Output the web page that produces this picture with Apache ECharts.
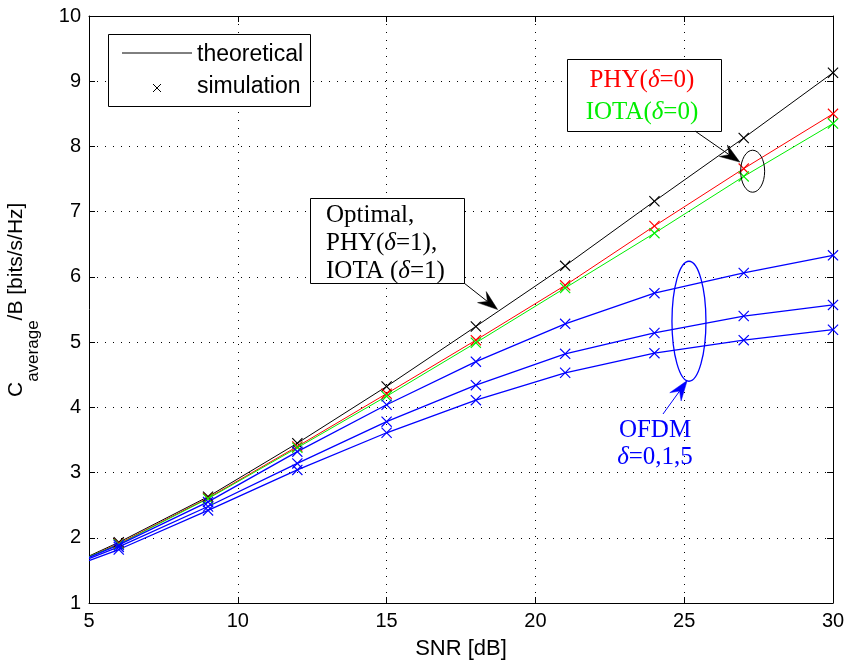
<!DOCTYPE html>
<html>
<head>
<meta charset="utf-8">
<script src="https://cdn.jsdelivr.net/npm/echarts@6/dist/echarts.min.js"></script>
<style>
html,body{margin:0;padding:0;background:#fff;}
#c{width:849px;height:665px;}
</style>
</head>
<body>
<div id="c"></div>
<script>
// ---- data ----
const snr = [5, 6, 9, 12, 15, 18, 21, 24, 27, 30];
const optimal = [1.72, 1.93, 2.63, 3.45, 4.32, 5.24, 6.17, 7.16, 8.13, 9.13];
const phy0    = [1.71, 1.91, 2.61, 3.40, 4.21, 5.03, 5.87, 6.78, 7.66, 8.50];
const iota0   = [1.71, 1.90, 2.60, 3.38, 4.17, 4.99, 5.83, 6.67, 7.54, 8.35];
const ofdm0   = [1.70, 1.89, 2.55, 3.32, 4.04, 4.70, 5.28, 5.75, 6.06, 6.33];
const ofdm1   = [1.68, 1.86, 2.48, 3.14, 3.78, 4.34, 4.82, 5.14, 5.40, 5.57];
const ofdm5   = [1.65, 1.82, 2.42, 3.04, 3.61, 4.11, 4.53, 4.83, 5.03, 5.19];
const xTicks = [5, 10, 15, 20, 25, 30];
const yTicks = [1, 2, 3, 4, 5, 6, 7, 8, 9, 10];

const chart = echarts.init(document.getElementById('c'), null, {renderer: 'canvas'});
const SANS = 'Liberation Sans';
const SERIF = 'Liberation Serif';
const GREEN = '#00ee00';
const XSYM = 'path://M0,0.75L0.75,0L5,4.25L9.25,0L10,0.75L5.75,5L10,9.25L9.25,10L5,5.75L0.75,10L0,9.25L4.25,5Z';

function mkSeries(name, vals, color, width) {
  return {
    name: name, type: 'line', xAxisIndex: 0, yAxisIndex: 0,
    data: snr.map((x, i) => i === 0 ? {value: [x, vals[i]], symbol: 'none'} : [x, vals[i]]),
    symbol: XSYM, symbolSize: 11, showAllSymbol: true,
    itemStyle: {color: color},
    lineStyle: {color: color, width: width},
    silent: true
  };
}

const gridLine = {show: true, lineStyle: {color: '#000', width: 1, type: [1, 7]}};
const axLine = {show: true, lineStyle: {color: '#000', width: 1}};
const axTick = {show: true, inside: true, length: 6, lineStyle: {color: '#000'}};

chart.setOption({
  animation: false,
  backgroundColor: '#fff',
  grid: {left: 89, right: 16, top: 16, bottom: 62, containLabel: false, outerBoundsMode: 'none'},
  xAxis: [{
    type: 'value', min: xTicks[0], max: xTicks[xTicks.length - 1], interval: 5,
    position: 'bottom',
    axisLine: axLine, axisTick: axTick, splitLine: gridLine,
    axisLabel: {color: '#000', fontFamily: SANS, fontSize: 20, margin: 8},
    name: 'SNR [dB]', nameLocation: 'middle', nameGap: 35,
    nameTextStyle: {color: '#000', fontFamily: SANS, fontSize: 22}
  }, {
    type: 'value', min: xTicks[0], max: xTicks[xTicks.length - 1], interval: 5,
    position: 'top',
    axisLine: axLine, axisTick: axTick, splitLine: {show: false},
    axisLabel: {show: false}
  }],
  yAxis: [{
    type: 'value', min: yTicks[0], max: yTicks[yTicks.length - 1], interval: 1,
    position: 'left',
    axisLine: axLine, axisTick: axTick, splitLine: gridLine,
    axisLabel: {color: '#000', fontFamily: SANS, fontSize: 20, margin: 8}
  }, {
    type: 'value', min: yTicks[0], max: yTicks[yTicks.length - 1], interval: 1,
    position: 'right',
    axisLine: axLine, axisTick: axTick, splitLine: {show: false},
    axisLabel: {show: false}
  }],
  series: [
    mkSeries('Optimal', optimal, '#000000', 1),
    mkSeries('PHY(δ=0)', phy0, '#ff0000', 1),
    mkSeries('IOTA(δ=0)', iota0, GREEN, 1),
    mkSeries('OFDM δ=0', ofdm0, '#0000ff', 1.3),
    mkSeries('OFDM δ=1', ofdm1, '#0000ff', 1.3),
    mkSeries('OFDM δ=5', ofdm5, '#0000ff', 1.3)
  ]
});

// ---- annotations ----
function px(d) { return chart.convertToPixel({gridIndex: 0}, d); }

function arrow(x1, y1, x2, y2, color) {
  const dx = x2 - x1, dy = y2 - y1;
  const L = Math.sqrt(dx * dx + dy * dy);
  const ux = dx / L, uy = dy / L;
  const nx = -uy, ny = ux;
  const len = 20, hw = 7, notch = 13;
  const bx = x2 - ux * len, by = y2 - uy * len;
  const mx = x2 - ux * notch, my = y2 - uy * notch;
  return [
    {type: 'line', shape: {x1: x1, y1: y1, x2: mx, y2: my}, style: {stroke: color, lineWidth: 1}, z: 100},
    {type: 'polygon', shape: {points: [[x2, y2], [bx + nx * hw, by + ny * hw], [mx, my], [bx - nx * hw, by - ny * hw]]},
      style: {fill: color, stroke: color, lineWidth: 0.5}, z: 100}
  ];
}

function serifRich(parts, color, x, y, align) {
  const text = parts.map(p => (p[1] ? '{i|' : '{n|') + p[0] + '}').join('');
  return {type: 'text', z: 101, style: {
    text: text, x: x, y: y, textAlign: align, textVerticalAlign: 'middle',
    rich: {
      n: {fontFamily: SERIF, fontSize: 25, fill: color},
      i: {fontFamily: SERIF, fontStyle: 'italic', fontSize: 25, fill: color}
    }
  }};
}

// text width measurement for the rotated y-axis title
const mctx = document.createElement('canvas').getContext('2d');
function tw(t, size) { mctx.font = size + 'px "' + SANS + '"'; return mctx.measureText(t).width; }

const optTip = px([18.73, 5.50]);
const phyTip = px([26.87, 7.76]);
const ofdmTip = px([25.10, 4.41]);
const ellBlack = px([27.30, 7.62]);
const ellBlue = px([25.16, 5.32]);

const g = [];

// y-axis title: C_average/B [bits/s/Hz], rotated
const yStart = 397, mainX = 16, subX = 33, mainSize = 21, subSize = 17;
const wC = tw('C', mainSize), wSub = tw('average', subSize);
[['C', mainX, yStart, mainSize],
 ['average', subX, yStart - wC, subSize],
 ['/B [bits/s/Hz]', mainX, yStart - wC - wSub, mainSize]].forEach(p => {
  g.push({type: 'text', x: p[1], y: p[2], rotation: Math.PI / 2, z: 101,
    style: {text: p[0], x: 0, y: 0, textAlign: 'left', textVerticalAlign: 'middle', fontFamily: SANS, fontSize: p[3], fill: '#000'}});
});

// legend box
g.push({type: 'rect', shape: {x: 108.5, y: 34.5, width: 202, height: 72}, style: {fill: '#fff', stroke: '#000', lineWidth: 1}, z: 100});
g.push({type: 'line', shape: {x1: 122, y1: 53, x2: 192, y2: 53}, style: {stroke: '#000', lineWidth: 1}, z: 101});
g.push({type: 'text', style: {text: 'theoretical', x: 197, y: 55, fontFamily: SANS, fontSize: 23, fill: '#000', textVerticalAlign: 'middle'}, z: 101});
g.push({type: 'line', shape: {x1: 153, y1: 84, x2: 161, y2: 92}, style: {stroke: '#000', lineWidth: 1}, z: 101});
g.push({type: 'line', shape: {x1: 161, y1: 84, x2: 153, y2: 92}, style: {stroke: '#000', lineWidth: 1}, z: 101});
g.push({type: 'text', style: {text: 'simulation', x: 197, y: 87, fontFamily: SANS, fontSize: 23, fill: '#000', textVerticalAlign: 'middle'}, z: 101});

// Optimal box
g.push({type: 'rect', shape: {x: 310.5, y: 198.5, width: 154, height: 85}, style: {fill: '#fff', stroke: '#000', lineWidth: 1}, z: 100});
g.push(serifRich([['Optimal,', false]], '#000', 326, 215, 'left'));
g.push(serifRich([['PHY(', false], ['δ', true], ['=1),', false]], '#000', 326, 243, 'left'));
g.push(serifRich([['IOTA (', false], ['δ', true], ['=1)', false]], '#000', 326, 271, 'left'));
arrow(464, 283, optTip[0], optTip[1], '#000').forEach(e => g.push(e));

// PHY / IOTA box
g.push({type: 'rect', shape: {x: 567.5, y: 59.5, width: 154, height: 72}, style: {fill: '#fff', stroke: '#000', lineWidth: 1}, z: 100});
g.push(serifRich([['PHY(', false], ['δ', true], ['=0)', false]], '#ff0000', 642, 80, 'center'));
g.push(serifRich([['IOTA(', false], ['δ', true], ['=0)', false]], GREEN, 642, 112, 'center'));
arrow(695, 131, phyTip[0], phyTip[1], '#000').forEach(e => g.push(e));
g.push({type: 'ellipse', shape: {cx: ellBlack[0], cy: ellBlack[1], rx: 12, ry: 21}, style: {fill: 'none', stroke: '#000', lineWidth: 1}, z: 100});

// OFDM
g.push({type: 'ellipse', shape: {cx: ellBlue[0], cy: ellBlue[1], rx: 17, ry: 60}, style: {fill: 'none', stroke: '#0000ff', lineWidth: 1.3}, z: 100});
arrow(663, 414, ofdmTip[0], ofdmTip[1], '#0000ff').forEach(e => g.push(e));
g.push(serifRich([['OFDM', false]], '#0000ff', 655, 430, 'center'));
g.push(serifRich([['δ', true], ['=0,1,5', false]], '#0000ff', 655, 457, 'center'));

chart.setOption({graphic: {elements: g}});
</script>
</body>
</html>
